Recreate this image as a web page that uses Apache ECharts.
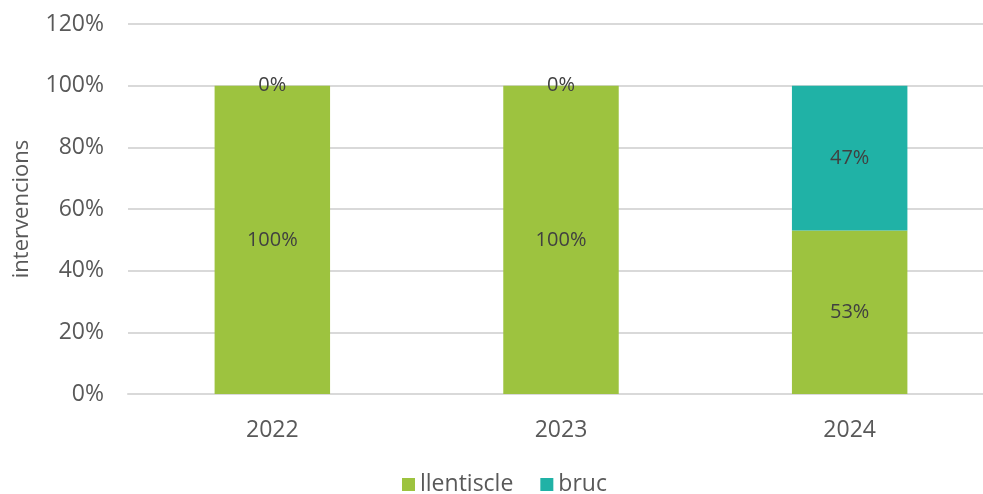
<!doctype html>
<html>
    <head>
        <meta charset="utf-8">
        <style>
            html, body { margin: 0; padding: 0; background: #fff; }
            #main { width: 983px; height: 494px; }
        </style>
    </head>
    <body>
        <div id="main"></div>
        <script src="https://cdn.jsdelivr.net/npm/echarts@6/dist/echarts.min.js"></script>
        <script>
            var years = ['2022', '2023', '2024'];
            var llentiscle = [100, 100, 53];
            var bruc = [0, 0, 47];
            var yTicks = [0, 20, 40, 60, 80, 100, 120];

            var FONT = '"Open Sans", "Liberation Sans", sans-serif';
            var chart = echarts.init(document.getElementById('main'));

            function barLabel() {
                return {
                    show: true,
                    position: 'inside',
                    color: '#404040',
                    fontFamily: FONT,
                    fontSize: 20,
                    formatter: '{c}%'
                };
            }

            chart.setOption({
                animation: false,
                grid: {
                    left: 128,
                    width: 866,
                    top: 24,
                    bottom: 100,
                    outerBoundsMode: 'none'
                },
                legend: {
                    top: 468,
                    left: 397,
                    itemWidth: 13,
                    itemHeight: 13,
                    itemGap: 27,
                    icon: 'rect',
                    textStyle: {
                        color: '#595959',
                        fontFamily: FONT,
                        fontSize: 23
                    },
                    data: ['llentiscle', 'bruc']
                },
                xAxis: {
                    type: 'category',
                    data: years,
                    axisLine: { lineStyle: { color: '#d9d9d9', width: 2 } },
                    axisTick: { show: false },
                    axisLabel: {
                        color: '#595959',
                        fontFamily: FONT,
                        fontSize: 23,
                        margin: 25
                    }
                },
                yAxis: {
                    type: 'value',
                    min: yTicks[0],
                    max: yTicks[yTicks.length - 1],
                    interval: 20,
                    name: 'intervencions',
                    nameLocation: 'middle',
                    nameGap: 95,
                    nameTextStyle: {
                        color: '#595959',
                        fontFamily: FONT,
                        fontSize: 22
                    },
                    axisLine: { show: false },
                    axisTick: { show: false },
                    splitLine: { lineStyle: { color: '#d9d9d9', width: 2 } },
                    axisLabel: {
                        color: '#595959',
                        fontFamily: FONT,
                        fontSize: 23,
                        margin: 24,
                        formatter: '{value}%'
                    }
                },
                series: [{
                    name: 'llentiscle',
                    type: 'bar',
                    stack: 'total',
                    barWidth: '40%',
                    itemStyle: { color: '#9dc33f' },
                    label: barLabel(),
                    data: llentiscle
                }, {
                    name: 'bruc',
                    type: 'bar',
                    stack: 'total',
                    barWidth: '40%',
                    itemStyle: { color: '#20b2a6' },
                    label: barLabel(),
                    data: bruc
                }]
            });
        </script>
    </body>
</html>
